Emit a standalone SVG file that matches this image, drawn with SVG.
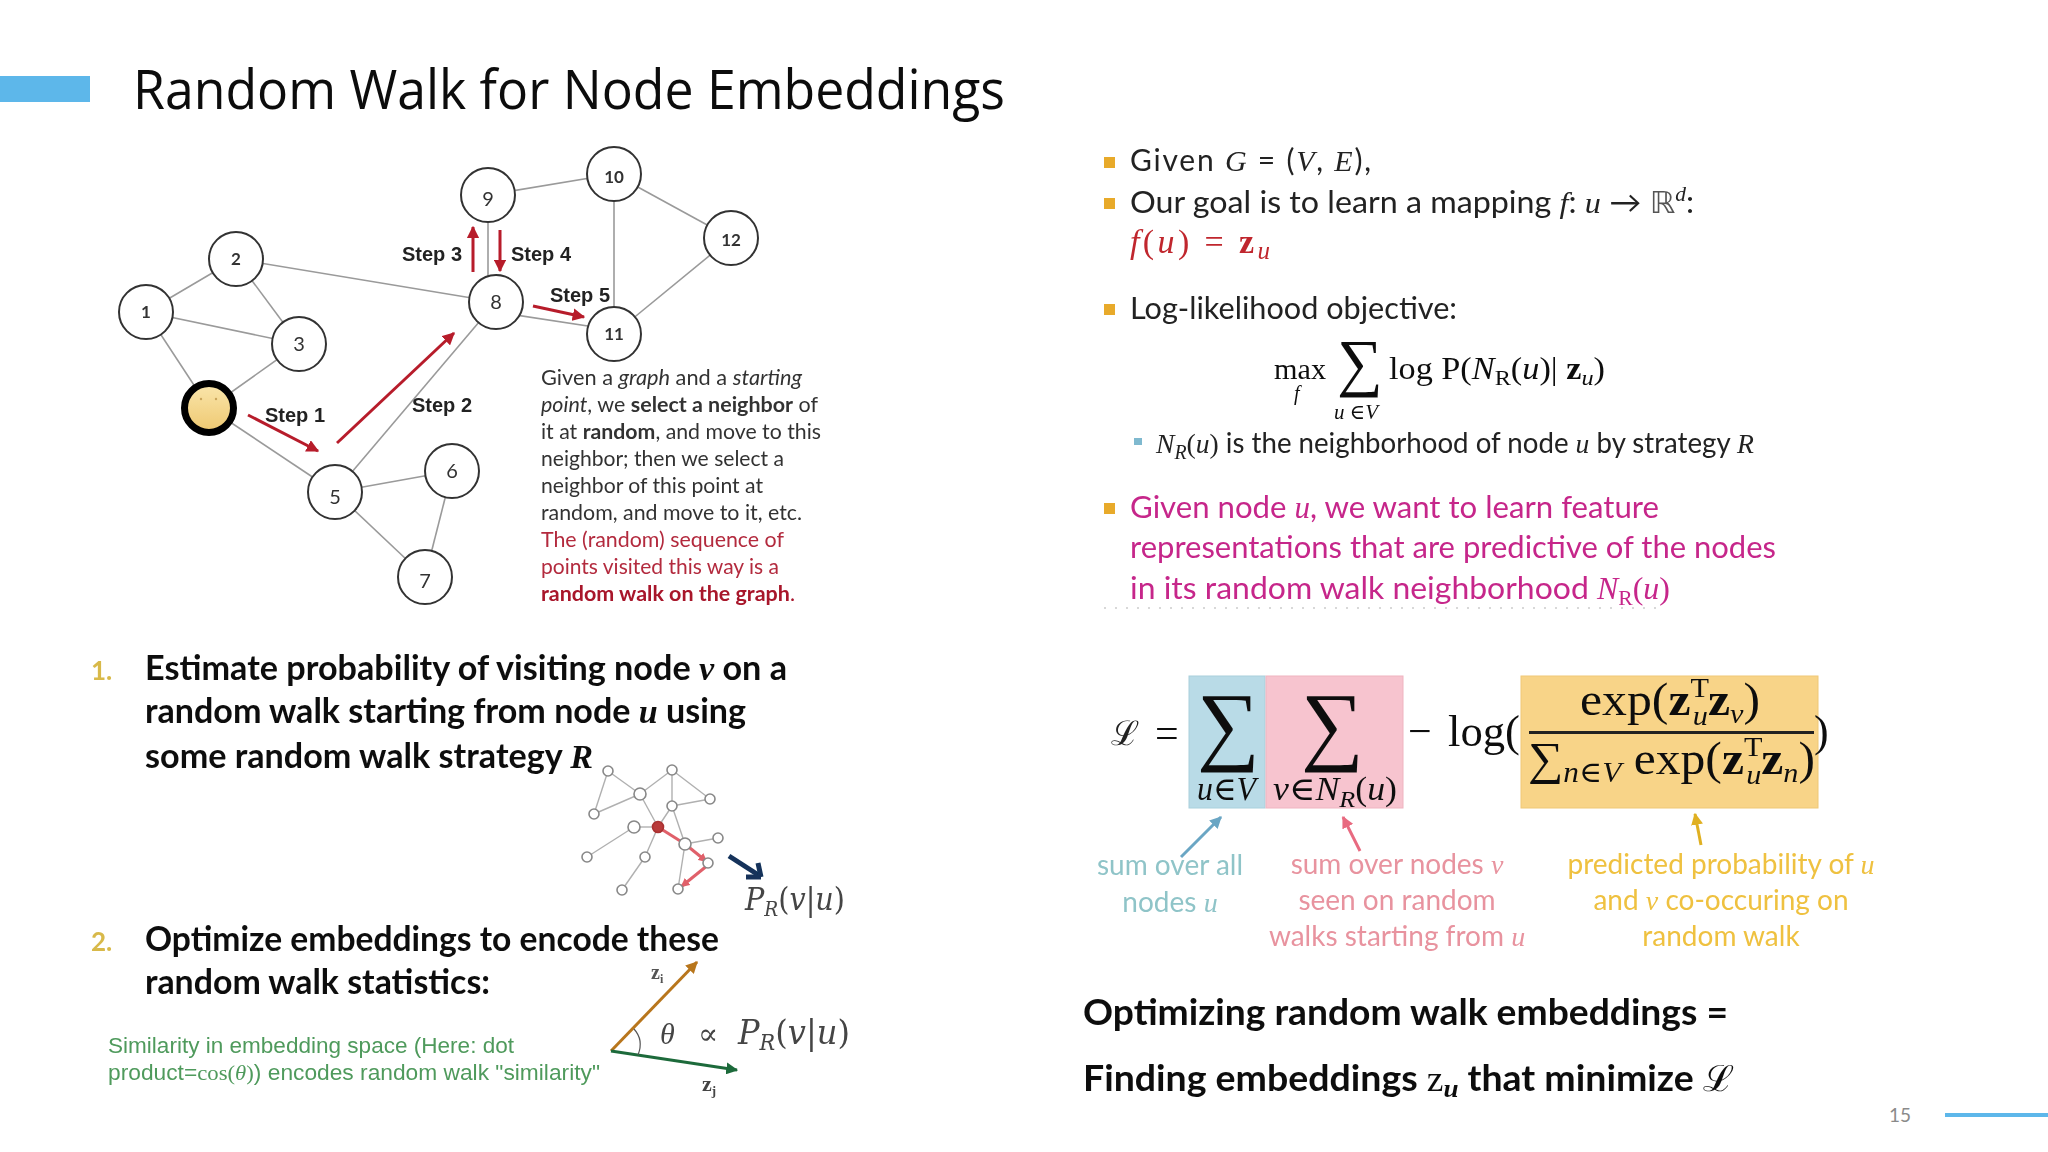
<svg xmlns="http://www.w3.org/2000/svg" width="2048" height="1152" viewBox="0 0 2048 1152">
<style>
text{font-family:"Lato","Noto Sans",sans-serif;fill:#111}
.m,.m text{font-family:"Liberation Serif","DejaVu Serif",serif}
.i{font-style:italic;font-family:"Liberation Serif","DejaVu Serif",serif}
.b{font-weight:700}
.mb{font-family:"Liberation Serif",serif;font-weight:700}
.n circle{fill:#fff;stroke:#333;stroke-width:2}
.n text{text-anchor:middle;fill:#333;font-family:"Lato",sans-serif}
.n{font-size:20px}
.e line{stroke:#9a9a9a;stroke-width:1.6}
.s{font-family:"Liberation Sans",Arial,sans-serif;font-weight:700;font-size:20px;fill:#222}
.p{font-size:21px;fill:#333}
.r{fill:#b32a3e}
.mag{font-size:31px;fill:#c6268a}
.bl{font-size:30px;fill:#222}
.h{font-size:34px;font-weight:700;fill:#111}
.h2{font-size:36px;font-weight:700;fill:#111}
.c{font-size:28px;text-anchor:middle}
.sg{stroke:#b0b0b0;stroke-width:1.4}
.sn circle{fill:#fff;stroke:#888;stroke-width:1.6}
</style>
<defs>
<marker id="ar" viewBox="0 0 10 10" refX="9" refY="5" markerWidth="4.2" markerHeight="4.2" orient="auto"><path d="M0 0L10 5L0 10z" fill="#b71c2c"/></marker>
<marker id="abl" viewBox="0 0 10 10" refX="9" refY="5" markerWidth="4" markerHeight="4" orient="auto"><path d="M0 0L10 5L0 10z" fill="#6ba6c4"/></marker>
<marker id="api" viewBox="0 0 10 10" refX="9" refY="5" markerWidth="4" markerHeight="4" orient="auto"><path d="M0 0L10 5L0 10z" fill="#e86a80"/></marker>
<marker id="ago" viewBox="0 0 10 10" refX="9" refY="5" markerWidth="4" markerHeight="4" orient="auto"><path d="M0 0L10 5L0 10z" fill="#e0b020"/></marker>
<marker id="aor" viewBox="0 0 10 10" refX="9" refY="5" markerWidth="4" markerHeight="4" orient="auto"><path d="M0 0L10 5L0 10z" fill="#b8761e"/></marker>
<marker id="agr" viewBox="0 0 10 10" refX="9" refY="5" markerWidth="4" markerHeight="4" orient="auto"><path d="M0 0L10 5L0 10z" fill="#1f6b3a"/></marker>
<marker id="apk" viewBox="0 0 10 10" refX="8" refY="5" markerWidth="3" markerHeight="3" orient="auto"><path d="M0 0L10 5L0 10z" fill="#e0606a"/></marker>
<linearGradient id="face" x1="0" y1="0" x2="0" y2="1"><stop offset="0" stop-color="#fae6ac"/><stop offset="1" stop-color="#eec870"/></linearGradient>
<filter id="soft" x="-2%" y="-2%" width="104%" height="104%"><feGaussianBlur stdDeviation="0.7"/></filter>
</defs>
<rect width="2048" height="1152" fill="#fff"/>
<rect id="title-bar" x="0" y="76" width="90" height="26" fill="#5db7ea"/>
<text id="title" x="133" y="109" font-size="54" textLength="872" lengthAdjust="spacingAndGlyphs" style="font-family:'Open Sans','Noto Sans',sans-serif;fill:#0c0c0c">Random Walk for Node Embeddings</text>

<g filter="url(#soft)">
<g id="connectors">
<g class="e">
<line x1="146" y1="312" x2="236" y2="259"/><line x1="236" y1="259" x2="299" y2="344"/><line x1="146" y1="312" x2="299" y2="344"/>
<line x1="146" y1="312" x2="209" y2="408"/><line x1="299" y1="344" x2="209" y2="408"/><line x1="209" y1="408" x2="335" y2="492"/>
<line x1="335" y1="492" x2="452" y2="471"/><line x1="335" y1="492" x2="425" y2="577"/><line x1="452" y1="471" x2="425" y2="577"/>
<line x1="335" y1="492" x2="496" y2="302"/><line x1="236" y1="259" x2="496" y2="302"/><line x1="488" y1="195" x2="488" y2="302"/>
<line x1="496" y1="312" x2="614" y2="330"/><line x1="488" y1="195" x2="614" y2="174"/><line x1="614" y1="174" x2="614" y2="334"/>
<line x1="614" y1="174" x2="731" y2="238"/><line x1="614" y1="334" x2="731" y2="238"/>
</g>
<g fill="none" stroke="#b71c2c" stroke-width="3">
<line x1="248" y1="415" x2="318" y2="451" marker-end="url(#ar)"/>
<line x1="337" y1="443" x2="454" y2="333" marker-end="url(#ar)"/>
<line x1="473" y1="272" x2="473" y2="227" marker-end="url(#ar)"/>
<line x1="500" y1="230" x2="500" y2="271" marker-end="url(#ar)"/>
<line x1="533" y1="306" x2="584" y2="317" marker-end="url(#ar)"/>
</g>
<line x1="1181" y1="857" x2="1221" y2="817" stroke="#6ba6c4" stroke-width="3" marker-end="url(#abl)"/>
<line x1="1360" y1="851" x2="1343" y2="817" stroke="#e86a80" stroke-width="3" marker-end="url(#api)"/>
<line x1="1701" y1="845" x2="1695" y2="814" stroke="#e0b020" stroke-width="3" marker-end="url(#ago)"/>
<line x1="729" y1="856" x2="760" y2="876" stroke="#12325a" stroke-width="5"/>
<path d="M761 877l-15 0 M761 877l-3-14" stroke="#12325a" stroke-width="5" fill="none"/>
<line x1="611" y1="1051" x2="697" y2="962" stroke="#b8761e" stroke-width="3" marker-end="url(#aor)"/>
<line x1="611" y1="1051" x2="737" y2="1070" stroke="#1f6b3a" stroke-width="3" marker-end="url(#agr)"/>
<path d="M634 1029Q644 1040 638 1055" fill="none" stroke="#555" stroke-width="1.2"/>
</g>

<g id="node-1" class="n"><circle cx="146" cy="312" r="27"/><text x="146" y="318" font-size="17" class="b">1</text></g>
<g id="node-2" class="n"><circle cx="236" cy="259" r="27"/><text x="236" y="265" font-size="17" class="b">2</text></g>
<g id="node-3" class="n"><circle cx="299" cy="344" r="27"/><text x="299" y="351">3</text></g>
<g id="node-start"><circle cx="209" cy="408" r="24.5" fill="url(#face)" stroke="#000" stroke-width="7"/><circle cx="201" cy="399" r="1.2" fill="#c9a45a"/><circle cx="216" cy="399" r="1.2" fill="#c9a45a"/></g>
<g id="node-5" class="n"><circle cx="335" cy="492" r="27"/><text x="335" y="504">5</text></g>
<g id="node-6" class="n"><circle cx="452" cy="471" r="27"/><text x="452" y="478">6</text></g>
<g id="node-7" class="n"><circle cx="425" cy="577" r="27"/><text x="425" y="588">7</text></g>
<g id="node-8" class="n"><circle cx="496" cy="302" r="27"/><text x="496" y="309">8</text></g>
<g id="node-9" class="n"><circle cx="488" cy="195" r="27"/><text x="488" y="206">9</text></g>
<g id="node-10" class="n"><circle cx="614" cy="174" r="27"/><text x="614" y="183" font-size="17" class="b">10</text></g>
<g id="node-11" class="n"><circle cx="614" cy="334" r="27"/><text x="614" y="340" font-size="17" class="b">11</text></g>
<g id="node-12" class="n"><circle cx="731" cy="238" r="27"/><text x="731" y="246" font-size="17" class="b">12</text></g>

<text class="s" x="265" y="422">Step 1</text>
<text class="s" x="412" y="412">Step 2</text>
<text class="s" x="402" y="261">Step 3</text>
<text class="s" x="511" y="261">Step 4</text>
<text class="s" x="550" y="302">Step 5</text>

<g id="walk-description">
<text class="p" x="541" y="385" textLength="261" lengthAdjust="spacingAndGlyphs"><tspan>Given a </tspan><tspan font-style="italic">graph</tspan><tspan> and a </tspan><tspan font-style="italic">starting</tspan></text>
<text class="p" x="541" y="412" textLength="277" lengthAdjust="spacingAndGlyphs"><tspan font-style="italic">point</tspan><tspan>, we </tspan><tspan class="b">select a neighbor</tspan><tspan> of</tspan></text>
<text class="p" x="541" y="439" textLength="280" lengthAdjust="spacingAndGlyphs">it at <tspan class="b">random</tspan>, and move to this</text>
<text class="p" x="541" y="466" textLength="243" lengthAdjust="spacingAndGlyphs">neighbor; then we select a</text>
<text class="p" x="541" y="493" textLength="222" lengthAdjust="spacingAndGlyphs">neighbor of this point at</text>
<text class="p" x="541" y="520" textLength="261" lengthAdjust="spacingAndGlyphs">random, and move to it, etc.</text>
<text class="p r" x="541" y="547" textLength="243" lengthAdjust="spacingAndGlyphs">The (random) sequence of</text>
<text class="p r" x="541" y="574" textLength="238" lengthAdjust="spacingAndGlyphs">points visited this way is a</text>
<text class="p b" x="541" y="601" textLength="254" lengthAdjust="spacingAndGlyphs" style="fill:#a8142a">random walk on the graph<tspan style="font-weight:400">.</tspan></text>
</g>

<g id="step-1-text">
<text x="91" y="680" font-size="26" class="b" style="fill:#d8b94a">1.</text>
<text class="h" x="145" y="680" textLength="642" lengthAdjust="spacingAndGlyphs">Estimate probability of visiting node <tspan class="i">v</tspan> on a</text>
<text class="h" x="145" y="723" textLength="601" lengthAdjust="spacingAndGlyphs">random walk starting from node <tspan class="i">u</tspan> using</text>
<text class="h" x="145" y="768" textLength="448" lengthAdjust="spacingAndGlyphs">some random walk strategy <tspan class="i">R</tspan></text>
</g>
<g id="small-graph">
<g class="sg">
<line x1="608" y1="771" x2="640" y2="794"/><line x1="608" y1="771" x2="594" y2="814"/><line x1="640" y1="794" x2="594" y2="814"/>
<line x1="640" y1="794" x2="672" y2="770"/><line x1="672" y1="770" x2="710" y2="799"/><line x1="672" y1="770" x2="672" y2="806"/>
<line x1="672" y1="806" x2="710" y2="799"/><line x1="640" y1="794" x2="658" y2="827"/><line x1="672" y1="806" x2="658" y2="827"/>
<line x1="672" y1="806" x2="685" y2="844"/><line x1="634" y1="827" x2="658" y2="827"/><line x1="634" y1="827" x2="587" y2="857"/>
<line x1="658" y1="827" x2="645" y2="857"/><line x1="645" y1="857" x2="622" y2="890"/><line x1="685" y1="844" x2="718" y2="838"/>
<line x1="685" y1="844" x2="678" y2="889"/>
</g>
<g stroke="#e0606a" stroke-width="3" fill="none">
<line x1="658" y1="827" x2="685" y2="844"/><line x1="685" y1="844" x2="706" y2="861" marker-end="url(#apk)"/><line x1="708" y1="865" x2="682" y2="886" marker-end="url(#apk)"/>
</g>
<g class="sn">
<circle cx="608" cy="771" r="5"/><circle cx="672" cy="770" r="5"/><circle cx="640" cy="794" r="6"/><circle cx="710" cy="799" r="5"/><circle cx="672" cy="806" r="5"/><circle cx="594" cy="814" r="5"/><circle cx="634" cy="827" r="6"/><circle cx="685" cy="844" r="6"/><circle cx="718" cy="838" r="5"/><circle cx="708" cy="863" r="5"/><circle cx="587" cy="857" r="5"/><circle cx="645" cy="857" r="5"/><circle cx="622" cy="890" r="5"/><circle cx="678" cy="889" r="5"/>
<circle cx="658" cy="827" r="5.5" style="fill:#b93a3a;stroke:#a33"/>
</g>
</g>
<text x="745" y="910" font-size="31" class="m" textLength="100" lengthAdjust="spacingAndGlyphs" style="font-family:'DejaVu Serif','Liberation Serif',serif;fill:#444"><tspan font-style="italic">P</tspan><tspan font-size="20" dy="6" font-style="italic">R</tspan><tspan dy="-6">(</tspan><tspan font-style="italic">v</tspan>|<tspan font-style="italic">u</tspan>)</text>

<g id="step-2-text">
<text x="91" y="951" font-size="26" class="b" style="fill:#d8b94a">2.</text>
<text class="h" x="145" y="951" textLength="574" lengthAdjust="spacingAndGlyphs">Optimize embeddings to encode these</text>
<text class="h" x="145" y="994" textLength="345" lengthAdjust="spacingAndGlyphs">random walk statistics:</text>
</g>
<text x="651" y="979" font-size="20" class="mb" style="fill:#555">z<tspan font-size="12" dy="4">i</tspan></text>
<text x="702" y="1091" font-size="22" class="mb" style="fill:#444">z<tspan font-size="13" dy="4">j</tspan></text>
<text x="660" y="1044" font-size="30" class="i" style="fill:#444">θ</text>
<text x="698" y="1044" font-size="30" style="font-family:'DejaVu Serif',serif;fill:#444">∝</text>
<text x="738" y="1044" font-size="34" textLength="112" lengthAdjust="spacingAndGlyphs" style="font-family:'DejaVu Serif',serif;fill:#444"><tspan font-style="italic">P</tspan><tspan font-size="22" dy="6" font-style="italic">R</tspan><tspan dy="-6">(</tspan><tspan font-style="italic">v</tspan>|<tspan font-style="italic">u</tspan>)</text>
<g id="similarity">
<text x="108" y="1053" textLength="406" lengthAdjust="spacingAndGlyphs" font-size="22" style="font-family:'Liberation Sans',Arial,sans-serif;fill:#4f9a5c">Similarity in embedding space (Here: dot</text>
<text x="108" y="1080" textLength="492" lengthAdjust="spacingAndGlyphs" font-size="22" style="font-family:'Liberation Sans',Arial,sans-serif;fill:#4f9a5c">product=<tspan style="font-family:'Liberation Serif',serif">cos(</tspan><tspan style="font-family:'Liberation Serif',serif;font-style:italic">θ</tspan><tspan style="font-family:'Liberation Serif',serif">)</tspan>) encodes random walk "similarity"</text>
</g>

<g id="objective-bullets">
<g fill="#e8aa2a"><rect x="1104" y="157" width="11" height="11"/><rect x="1104" y="198" width="11" height="11"/><rect x="1104" y="304" width="11" height="11"/><rect x="1104" y="503" width="11" height="11"/></g>
<rect x="1134" y="438" width="8" height="7" fill="#7fb9cf"/>
<text class="bl" x="1130" y="171" textLength="241" lengthAdjust="spacing">Given <tspan class="i">G</tspan> = (<tspan class="i">V</tspan>, <tspan class="i">E</tspan>),</text>
<text class="bl" x="1130" y="213" textLength="564" lengthAdjust="spacingAndGlyphs">Our goal is to learn a mapping <tspan class="i">f</tspan>: <tspan class="i">u</tspan> → <tspan style="font-family:'DejaVu Sans',sans-serif;fill:#555">ℝ</tspan><tspan class="i" font-size="20" dy="-12">d</tspan><tspan dy="12">:</tspan></text>
<text x="1130" y="253" font-size="34" textLength="140" lengthAdjust="spacing" style="fill:#c0272d;font-family:'Liberation Serif',serif"><tspan font-style="italic">f</tspan>(<tspan font-style="italic">u</tspan>) = <tspan font-weight="700">z</tspan><tspan font-style="italic" font-size="25" dy="6">u</tspan></text>
<text class="bl" x="1130" y="319" textLength="327" lengthAdjust="spacingAndGlyphs">Log-likelihood objective:</text>
<g class="m">
<text x="1274" y="379" font-size="29" textLength="52" lengthAdjust="spacingAndGlyphs">max</text>
<text x="1294" y="400" font-size="20" class="i">f</text>
<text x="1337" y="384" font-size="64">∑</text>
<text x="1334" y="419" font-size="21"><tspan font-style="italic">u</tspan> ∈<tspan font-style="italic">V</tspan></text>
<text x="1389" y="379" font-size="31" textLength="216" lengthAdjust="spacingAndGlyphs">log P(<tspan font-style="italic">N</tspan><tspan font-size="22" dy="6">R</tspan><tspan dy="-6">(</tspan><tspan font-style="italic">u</tspan>)| <tspan font-weight="700">z</tspan><tspan font-style="italic" font-size="22" dy="6">u</tspan><tspan dy="-6">)</tspan></text>
</g>
<text x="1156" y="453" font-size="28" textLength="598" lengthAdjust="spacingAndGlyphs" style="fill:#222"><tspan class="i">N</tspan><tspan class="i" font-size="20" dy="6">R</tspan><tspan class="m" dy="-6">(</tspan><tspan class="i">u</tspan><tspan class="m">)</tspan> is the neighborhood of node <tspan class="i">u</tspan> by strategy <tspan class="i">R</tspan></text>
<text class="mag" x="1130" y="518" textLength="529" lengthAdjust="spacingAndGlyphs">Given node <tspan class="i">u</tspan>, we want to learn feature</text>
<text class="mag" x="1130" y="558" textLength="646" lengthAdjust="spacingAndGlyphs">representations that are predictive of the nodes</text>
<text class="mag" x="1130" y="599" textLength="540" lengthAdjust="spacingAndGlyphs">in its random walk neighborhood <tspan class="i">N</tspan><tspan font-size="21" dy="6" style="font-family:'Liberation Serif',serif">R</tspan><tspan class="m" dy="-6">(</tspan><tspan class="i">u</tspan><tspan class="m">)</tspan></text>
<line x1="1104" y1="608" x2="1660" y2="608" stroke="#ccc" stroke-width="1.5" stroke-dasharray="2 9"/>
</g>

<g id="term-sum-u"><rect x="1189" y="676" width="76" height="132" fill="#b9dbe7" stroke="#a9d0dc"/></g>
<g id="term-sum-v"><rect x="1266" y="676" width="137" height="132" fill="#f7c4cf" stroke="#efb4c0"/></g>
<g id="term-frac"><rect x="1521" y="676" width="297" height="132" fill="#f8d488" stroke="#efc877"/></g>
<g id="loss-formula" class="m">
<text x="1111" y="745" font-size="34" style="font-family:'DejaVu Serif',serif;fill:#222">ℒ</text>
<text x="1155" y="747" font-size="42">=</text>
<text x="1197" y="754" font-size="88">∑</text>
<text x="1197" y="800" font-size="33" textLength="59" lengthAdjust="spacingAndGlyphs" class="i">u<tspan style="font-style:normal">∈</tspan>V</text>
<text x="1301" y="754" font-size="88">∑</text>
<text x="1273" y="800" font-size="33" textLength="124" lengthAdjust="spacingAndGlyphs"><tspan class="i">v</tspan>∈<tspan class="i">N</tspan><tspan class="i" font-size="24" dy="7">R</tspan><tspan dy="-7">(</tspan><tspan class="i">u</tspan>)</text>
<text x="1408" y="745" font-size="42">−</text>
<text x="1448" y="746" font-size="44" textLength="72" lengthAdjust="spacingAndGlyphs">log(</text>
<text x="1580" y="715" font-size="46" textLength="180" lengthAdjust="spacingAndGlyphs">exp(<tspan font-weight="700">z</tspan><tspan font-size="28" dy="-18">T</tspan><tspan font-style="italic" font-size="28" dx="-15" dy="28">u</tspan><tspan font-weight="700" dy="-10">z</tspan><tspan font-style="italic" font-size="28" dy="8">v</tspan><tspan dy="-8">)</tspan></text>
<rect x="1529" y="731" width="285" height="3" fill="#222"/>
<text x="1528" y="774" font-size="46" textLength="287" lengthAdjust="spacingAndGlyphs">∑<tspan font-style="italic" font-size="29" dy="8">n</tspan><tspan font-size="29">∈</tspan><tspan font-style="italic" font-size="29">V</tspan><tspan dy="-8"> exp(</tspan><tspan font-weight="700">z</tspan><tspan font-size="28" dy="-18">T</tspan><tspan font-style="italic" font-size="28" dx="-15" dy="28">u</tspan><tspan font-weight="700" dy="-10">z</tspan><tspan font-style="italic" font-size="28" dy="8">n</tspan><tspan dy="-8">)</tspan></text>
<text x="1814" y="746" font-size="44">)</text>
</g>

<g id="loss-labels">
<text class="c" x="1170" y="875" style="fill:#8fc4c8">sum over all</text>
<text class="c" x="1170" y="912" style="fill:#8fc4c8">nodes <tspan class="i">u</tspan></text>
<text class="c" x="1397" y="874" style="fill:#e8939f">sum over nodes <tspan class="i">v</tspan></text>
<text class="c" x="1397" y="910" style="fill:#e8939f">seen on random</text>
<text class="c" x="1397" y="946" style="fill:#e8939f">walks starting from <tspan class="i">u</tspan></text>
<text class="c" x="1721" y="874" style="fill:#efc13f">predicted probability of <tspan class="i">u</tspan></text>
<text class="c" x="1721" y="910" style="fill:#efc13f">and <tspan class="i">v</tspan> co-occuring on</text>
<text class="c" x="1721" y="946" style="fill:#efc13f">random walk</text>
</g>

<g id="conclusion">
<text class="h2" x="1083" y="1025" textLength="645" lengthAdjust="spacingAndGlyphs">Optimizing random walk embeddings =</text>
<text class="h2" x="1083" y="1091" textLength="651" lengthAdjust="spacingAndGlyphs">Finding embeddings <tspan class="m" style="font-weight:400">z</tspan><tspan class="i" font-size="26" dy="6">u</tspan><tspan dy="-6"> that minimize </tspan><tspan style="font-family:'DejaVu Serif',serif;font-weight:400">ℒ</tspan></text>
</g>
</g>
<text id="page-number" x="1889" y="1122" font-size="19" style="fill:#8a8a8a">15</text>
<rect id="footer-line" x="1945" y="1113" width="103" height="4" fill="#5db7ea"/>
</svg>
